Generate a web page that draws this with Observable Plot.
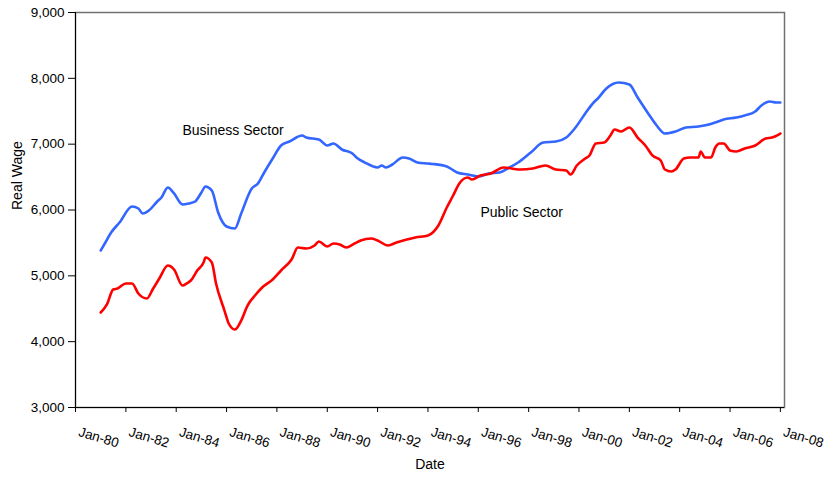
<!DOCTYPE html>
<html>
<head>
<meta charset="utf-8">
<script src="https://cdn.jsdelivr.net/npm/d3@7"></script>
<script src="https://cdn.jsdelivr.net/npm/@observablehq/plot@0.6"></script>
<style>
  html, body { margin: 0; padding: 0; background: #fff; }
  #chart { width: 839px; height: 478px; }
</style>
</head>
<body>
<div id="chart"></div>
<script>
// ---- Data ----
const businessDates = ["1981-01","1981-03","1981-06","1981-10","1982-04","1982-07","1982-09","1982-12","1983-04","1983-06","1983-09","1983-12","1984-04","1984-07","1984-10","1985-01","1985-03","1985-06","1985-09","1986-01","1986-05","1986-08","1987-01","1987-04","1987-07","1987-11","1988-03","1988-07","1989-01","1989-03","1989-09","1990-01","1990-04","1990-08","1991-01","1991-03","1991-07","1992-01","1992-03","1992-05","1992-08","1993-01","1993-04","1993-08","1994-01","1994-03","1994-10","1995-03","1995-08","1996-01","1996-06","1996-11","1997-03","1997-08","1998-02","1998-08","1999-02","1999-07","1999-11","2000-04","2000-08","2000-10","2001-02","2001-08","2002-01","2002-05","2002-10","2003-02","2003-06","2003-11","2004-04","2004-10","2005-03","2005-06","2005-10","2006-04","2006-08","2007-01","2007-04","2007-08","2007-11","2008-01"];
const businessValues = [5385,5491,5658,5810,6053,6023,5947,5992,6129,6190,6342,6251,6084,6099,6129,6266,6357,6296,5962,5749,5719,5947,6327,6403,6570,6782,6980,7040,7132,7102,7071,6980,7010,6919,6858,6797,6721,6646,6676,6646,6691,6797,6782,6721,6706,6700,6661,6570,6539,6509,6554,6570,6630,6721,6873,7025,7040,7101,7238,7466,7633,7694,7846,7937,7906,7709,7466,7284,7162,7192,7253,7268,7299,7329,7375,7405,7435,7496,7587,7648,7633,7633];

const publicDates = ["1981-01","1981-04","1981-07","1981-09","1982-01","1982-04","1982-07","1982-11","1983-02","1983-05","1983-09","1983-12","1984-04","1984-06","1984-08","1984-11","1985-02","1985-03","1985-06","1985-08","1985-12","1986-02","1986-05","1986-08","1986-11","1987-03","1987-06","1987-11","1988-03","1988-08","1988-11","1989-03","1989-07","1989-09","1990-01","1990-04","1990-07","1990-10","1991-02","1991-05","1991-10","1992-01","1992-06","1992-10","1993-03","1993-07","1994-01","1994-06","1994-10","1995-01","1995-04","1995-08","1995-10","1996-02","1996-07","1997-01","1997-05","1997-09","1998-03","1998-09","1999-02","1999-07","1999-09","1999-12","2000-04","2000-06","2000-09","2001-01","2001-04","2001-06","2001-09","2002-01","2002-05","2002-09","2002-12","2003-04","2003-06","2003-09","2003-11","2004-03","2004-06","2004-10","2004-11","2005-01","2005-04","2005-06","2005-08","2005-10","2006-01","2006-04","2006-08","2007-01","2007-06","2007-09","2008-01"];
const publicValues = [4443,4565,4792,4807,4884,4884,4732,4656,4807,4959,5157,5096,4853,4884,4929,5081,5202,5278,5202,4884,4473,4276,4185,4321,4549,4716,4823,4944,5081,5248,5430,5415,5461,5521,5445,5491,5476,5430,5491,5537,5567,5537,5461,5506,5552,5582,5613,5765,6038,6220,6403,6494,6463,6524,6554,6646,6630,6615,6630,6676,6615,6600,6539,6676,6782,6828,7010,7025,7132,7223,7192,7253,7101,6965,6828,6752,6615,6585,6615,6782,6797,6797,6889,6797,6797,6949,7010,7010,6904,6889,6934,6980,7086,7101,7162];

const tickYears = [1980,1982,1984,1986,1988,1990,1992,1994,1996,1998,2000,2002,2004,2006,2008];
const yTicks = [3000,4000,5000,6000,7000,8000,9000];
const seriesNames = ["Business Sector","Public Sector"];
const seriesColors = ["#3366FF","#FF0000"];
const labelDates = ["1984-04","1996-02"];
const labelValues = [7208,5962];

// ---- Build tables ----
const parse = d3.utcParse("%Y-%m");
const business = businessDates.map((d, i) => ({date: parse(d), value: businessValues[i]}));
const pub = publicDates.map((d, i) => ({date: parse(d), value: publicValues[i]}));
const xTicks = tickYears.map(y => new Date(Date.UTC(y, 0, 1)));
const labels = seriesNames.map((s, i) => ({text: s, date: parse(labelDates[i]), value: labelValues[i]}));
const xStart = new Date(Date.UTC(1980, 0, 1));
const xEnd = new Date(Date.UTC(2008, 2, 1));

const chart = Plot.plot({
  width: 839,
  height: 478,
  marginLeft: 75,
  marginRight: 55,
  marginTop: 12,
  marginBottom: 71,
  style: {fontFamily: "'Liberation Sans', Arial, sans-serif", fontSize: "13.5px", color: "#000", background: "#fff"},
  x: {type: "utc", domain: [xStart, xEnd]},
  y: {domain: [3000, 9000]},
  marks: [
    Plot.frame({stroke: "#707070", strokeWidth: 1.5}),
    Plot.axisY({ticks: yTicks, tickSize: 7, tickPadding: 4, tickFormat: d3.format(","), label: null}),
    Plot.axisX({ticks: xTicks, tickSize: 5, tickFormat: () => "", label: null}),
    Plot.text(xTicks, {x: d => d, frameAnchor: "bottom", text: d3.utcFormat("%b-%y"), rotate: 17, textAnchor: "start", lineAnchor: "top", dx: 5, dy: 19, fill: "#000", fontSize: 13.5}),
    Plot.ruleY([3000], {stroke: "#000"}),
    Plot.ruleX([xStart], {stroke: "#000"}),
    Plot.lineY(business, {x: "date", y: "value", stroke: seriesColors[0], strokeWidth: 2.6, curve: "monotone-x"}),
    Plot.lineY(pub, {x: "date", y: "value", stroke: seriesColors[1], strokeWidth: 2.6, curve: "monotone-x"}),
    Plot.text(labels, {x: "date", y: "value", text: "text", textAnchor: "start", fill: "#000", fontSize: 14}),
    Plot.text(["Real Wage"], {frameAnchor: "left", dx: -58, rotate: -90, fill: "#000", fontSize: 14}),
    Plot.text(["Date"], {frameAnchor: "bottom", dy: 61, fill: "#000", fontSize: 14})
  ]
});
document.getElementById("chart").appendChild(chart);
</script>
</body>
</html>
